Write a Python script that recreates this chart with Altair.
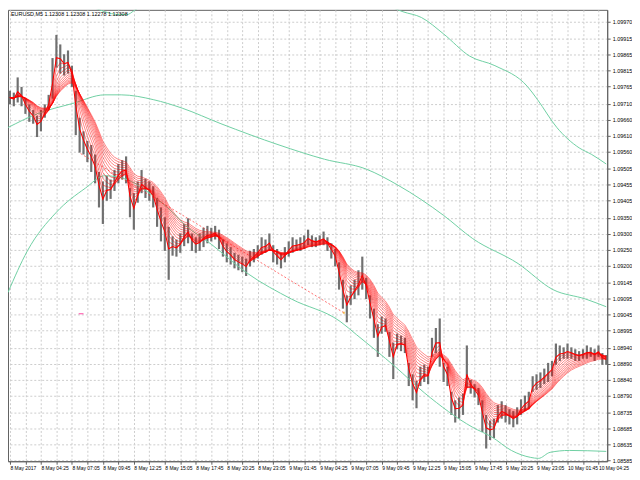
import altair as alt
import pandas as pd

title_text = "EURUSD,M5  1.12308 1.12308 1.12278 1.12308"

# 20-minute OHLC bars (high / low), first bar 8 May 2017 01:45
bar_start = "2017-05-08 01:45"
bar_high = [
    1.09751, 1.09745, 1.09793, 1.09763, 1.09726, 1.09708, 1.09690, 1.09672, 1.09690, 1.09708,
    1.09738, 1.09854, 1.09927, 1.09897, 1.09866, 1.09878, 1.09830, 1.09751, 1.09666, 1.09623,
    1.09593, 1.09580, 1.09550, 1.09495, 1.09465, 1.09483, 1.09471, 1.09501, 1.09520, 1.09532,
    1.09544, 1.09444, 1.09428, 1.09465, 1.09501, 1.09474, 1.09465, 1.09450, 1.09413, 1.09383,
    1.09352, 1.09322, 1.09292, 1.09282, 1.09301, 1.09331, 1.09349, 1.09301, 1.09289, 1.09301,
    1.09319, 1.09325, 1.09319, 1.09325, 1.09313, 1.09282, 1.09270, 1.09258, 1.09240, 1.09234,
    1.09228, 1.09222, 1.09246, 1.09252, 1.09264, 1.09289, 1.09282, 1.09301, 1.09264, 1.09252,
    1.09240, 1.09258, 1.09276, 1.09289, 1.09282, 1.09289, 1.09295, 1.09313, 1.09295, 1.09289,
    1.09295, 1.09307, 1.09289, 1.09270, 1.09252, 1.09210, 1.09155, 1.09106, 1.09137, 1.09155,
    1.09185, 1.09228, 1.09161, 1.09106, 1.09064, 1.09015, 1.09039, 1.09033, 1.08991, 1.08957,
    1.08985, 1.08979, 1.08972, 1.08893, 1.08857, 1.08836, 1.08881, 1.08887, 1.08881, 1.08972,
    1.09003, 1.09033, 1.08893, 1.08881, 1.08802, 1.08775, 1.08784, 1.08796, 1.08948, 1.08839,
    1.08826, 1.08814, 1.08775, 1.08729, 1.08711, 1.08717, 1.08760, 1.08772, 1.08760, 1.08747,
    1.08741, 1.08753, 1.08778, 1.08790, 1.08802, 1.08851, 1.08857, 1.08863, 1.08875, 1.08893,
    1.08899, 1.08954, 1.08948, 1.08942, 1.08954, 1.08942, 1.08936, 1.08930, 1.08936, 1.08948,
    1.08942, 1.08936, 1.08948, 1.08924, 1.08918,
]
bar_low = [
    1.09708, 1.09702, 1.09714, 1.09702, 1.09678, 1.09653, 1.09647, 1.09605, 1.09623, 1.09666,
    1.09690, 1.09726, 1.09824, 1.09805, 1.09799, 1.09805, 1.09763, 1.09611, 1.09556, 1.09550,
    1.09526, 1.09495, 1.09459, 1.09383, 1.09331, 1.09404, 1.09410, 1.09435, 1.09459, 1.09471,
    1.09459, 1.09352, 1.09313, 1.09398, 1.09428, 1.09413, 1.09404, 1.09383, 1.09322, 1.09276,
    1.09246, 1.09155, 1.09231, 1.09228, 1.09240, 1.09261, 1.09270, 1.09246, 1.09240, 1.09246,
    1.09258, 1.09270, 1.09276, 1.09282, 1.09252, 1.09228, 1.09210, 1.09203, 1.09191, 1.09185,
    1.09179, 1.09167, 1.09197, 1.09210, 1.09222, 1.09234, 1.09240, 1.09246, 1.09210, 1.09203,
    1.09191, 1.09210, 1.09228, 1.09240, 1.09246, 1.09246, 1.09252, 1.09264, 1.09258, 1.09258,
    1.09264, 1.09264, 1.09246, 1.09222, 1.09197, 1.09124, 1.09064, 1.09021, 1.09076, 1.09094,
    1.09106, 1.09124, 1.09094, 1.09033, 1.08972, 1.08912, 1.08985, 1.08991, 1.08912, 1.08842,
    1.08936, 1.08930, 1.08924, 1.08820, 1.08775, 1.08750, 1.08820, 1.08833, 1.08826, 1.08912,
    1.08924, 1.08881, 1.08833, 1.08820, 1.08729, 1.08705, 1.08717, 1.08729, 1.08814, 1.08796,
    1.08784, 1.08760, 1.08675, 1.08623, 1.08650, 1.08656, 1.08705, 1.08717, 1.08705, 1.08699,
    1.08690, 1.08699, 1.08729, 1.08741, 1.08747, 1.08802, 1.08808, 1.08814, 1.08826, 1.08833,
    1.08851, 1.08887, 1.08899, 1.08906, 1.08906, 1.08906, 1.08899, 1.08899, 1.08906, 1.08906,
    1.08912, 1.08899, 1.08912, 1.08887, 1.08887,
]

# Bollinger-style envelope (green)
mid_times = ["2017-05-08 01:35", "2017-05-08 04:05", "2017-05-08 07:10", "2017-05-08 09:55",
             "2017-05-08 11:20", "2017-05-08 14:05", "2017-05-08 16:35", "2017-05-08 19:55",
             "2017-05-09 00:55", "2017-05-09 04:50", "2017-05-09 08:25", "2017-05-09 11:10",
             "2017-05-09 15:05", "2017-05-09 17:35", "2017-05-09 21:30", "2017-05-10 00:30",
             "2017-05-10 03:20", "2017-05-10 05:05"]
mid_vals = [1.09635, 1.09678, 1.09711, 1.09738, 1.09738, 1.09723, 1.09696, 1.09647,
            1.09580, 1.09535, 1.09504, 1.09453, 1.09358, 1.09285, 1.09206, 1.09124,
            1.09094, 1.09070]
upper_times = ["2017-05-08 01:35", "2017-05-08 05:45", "2017-05-08 09:15", "2017-05-08 09:55",
               "2017-05-08 10:30", "2017-05-08 11:10", "2017-05-08 11:50", "2017-05-08 12:25",
               "2017-05-08 13:05", "2017-05-08 14:05", "2017-05-08 18:15", "2017-05-08 22:25",
               "2017-05-09 02:35", "2017-05-09 06:45", "2017-05-09 10:30", "2017-05-09 11:35",
               "2017-05-09 13:10", "2017-05-09 15:05", "2017-05-09 17:20", "2017-05-09 19:30",
               "2017-05-09 22:20", "2017-05-09 23:10", "2017-05-10 00:50", "2017-05-10 02:45",
               "2017-05-10 03:50", "2017-05-10 05:05"]
upper_vals = [1.10155, 1.10036, 1.10009, 1.10000, 1.09994, 1.09991, 1.09991, 1.10003,
              1.10018, 1.10027, 1.10046, 1.10052, 1.10052, 1.10036, 1.10015, 1.10000,
              1.09982, 1.09930, 1.09860, 1.09830, 1.09763, 1.09723, 1.09635, 1.09571,
              1.09550, 1.09520]
lower_times = ["2017-05-08 01:35", "2017-05-08 03:15", "2017-05-08 05:45", "2017-05-08 08:15",
               "2017-05-08 09:55", "2017-05-08 11:35", "2017-05-08 14:05", "2017-05-08 15:45",
               "2017-05-08 16:50", "2017-05-08 19:05", "2017-05-08 22:10", "2017-05-09 02:00",
               "2017-05-09 06:10", "2017-05-09 07:35", "2017-05-09 10:55", "2017-05-09 13:25",
               "2017-05-09 17:35", "2017-05-09 19:15", "2017-05-09 20:55", "2017-05-09 22:35",
               "2017-05-09 23:15", "2017-05-10 00:15", "2017-05-10 01:55", "2017-05-10 05:05"]
lower_vals = [1.09115, 1.09246, 1.09368, 1.09444, 1.09483, 1.09474, 1.09419, 1.09368,
              1.09328, 1.09267, 1.09176, 1.09094, 1.09024, 1.08982, 1.08881, 1.08799,
              1.08690, 1.08659, 1.08617, 1.08595, 1.08592, 1.08611, 1.08617, 1.08614]

# dotted trend line and markers
trend_times = ["2017-05-08 07:50", "2017-05-09 06:30"]
trend_vals = [1.09553, 1.09051]
mark_times = ["2017-05-08 07:40", "2017-05-08 08:05"]
mark_val = 1.09048

# moving-average ribbon spans (in 20-minute bars)
ribbon_spans = [2.5, 3.5, 4.5, 5.5, 6.5, 7.5, 8.5, 9.5, 10.5, 11.5, 12.5, 13.5]
fast_span = 1.5

y_ticks = [1.09970, 1.09915, 1.09865, 1.09815, 1.09765, 1.09710, 1.09660, 1.09610,
           1.09560, 1.09505, 1.09455, 1.09405, 1.09350, 1.09300, 1.09250, 1.09200,
           1.09145, 1.09095, 1.09045, 1.08995, 1.08940, 1.08890, 1.08840, 1.08790,
           1.08735, 1.08685, 1.08635, 1.08585]

# ---------------------------------------------------------------------------
times = pd.date_range(bar_start, periods=len(bar_high), freq="20min")
bars = pd.DataFrame({"t": times, "v": bar_low, "high": bar_high})
median = (pd.Series(bar_high) + pd.Series(bar_low)) / 2

rib_rows = []
for sp in ribbon_spans:
    e = median.ewm(span=sp, adjust=False).mean()
    rib_rows.append(pd.DataFrame({"t": times, "v": e.values, "span": sp}))
ribbon = pd.concat(rib_rows, ignore_index=True)
fast = pd.DataFrame({"t": times, "v": median.ewm(span=fast_span, adjust=False).mean().values})

mid = pd.DataFrame({"t": pd.to_datetime(mid_times), "v": mid_vals})
upper = pd.DataFrame({"t": pd.to_datetime(upper_times), "v": upper_vals})
lower = pd.DataFrame({"t": pd.to_datetime(lower_times), "v": lower_vals})
trend = pd.DataFrame({"t": pd.to_datetime(trend_times), "v": trend_vals})
marker = pd.DataFrame({"t": [pd.Timestamp(mark_times[0])], "t2": [pd.Timestamp(mark_times[1])],
                       "v": [mark_val]})
dot = pd.DataFrame({"t": [pd.Timestamp(trend_times[1])], "v": [trend_vals[1]]})


def dt(ts):
    return alt.DateTime(year=ts.year, month=ts.month, date=ts.day,
                        hours=ts.hour, minutes=ts.minute)


grid_times = pd.date_range("2017-05-08 01:45", "2017-05-10 04:25", freq="80min")
x_scale = alt.Scale(domain=[dt(pd.Timestamp("2017-05-08 01:35")),
                            dt(pd.Timestamp("2017-05-10 05:10"))], nice=False)
y_scale = alt.Scale(domain=[1.08583, 1.10006], zero=False, nice=False)

label_expr = (
    "round((datum.value - datetime(2017,4,8,1,45)) / 4800000) % 2 == 0 ? "
    "(round((datum.value - datetime(2017,4,8,1,45)) / 60000) == 0 ? '8 May 2017' : "
    "timeFormat(datum.value, '%-d %b %H:%M')) : ''"
)

x_axis = alt.Axis(values=[dt(t) for t in grid_times], labelExpr=label_expr,
                  labelAlign="left", labelBaseline="top", labelFontSize=5,
                  labelColor="#000000", labelPadding=1, labelOverlap=False,
                  labelFlush=False, tickSize=3, tickColor="#606060",
                  domainColor="#606060", gridColor="#cccccc", gridDash=[2, 2],
                  title=None, labelFont="Liberation Sans")
y_axis = alt.Axis(orient="right", values=y_ticks, format=".5f", labelFontSize=5.5,
                  labelColor="#000000", labelPadding=2, labelOverlap=False,
                  tickSize=3, tickColor="#606060", domainColor="#606060",
                  gridColor="#cccccc", gridDash=[2, 2], title=None,
                  labelFont="Liberation Sans", labelFlush=False)

X = alt.X("t:T", scale=x_scale, axis=x_axis)
Y = alt.Y("v:Q", scale=y_scale, axis=y_axis)

green = "#6fcfa3"

bar_layer = alt.Chart(bars).mark_rule(color="#707070", strokeWidth=2.2).encode(
    x=X, y=Y, y2="high:Q",
)

mid_layer = alt.Chart(mid).mark_line(color=green, strokeWidth=1, clip=True,
                                     interpolate="monotone").encode(x=X, y=Y)
up_layer = alt.Chart(upper).mark_line(color=green, strokeWidth=1, clip=True,
                                      interpolate="monotone").encode(x=X, y=Y)
low_layer = alt.Chart(lower).mark_line(color=green, strokeWidth=1, clip=True,
                                       interpolate="monotone").encode(x=X, y=Y)

trend_layer = alt.Chart(trend).mark_line(color="#ff2020", strokeWidth=0.8,
                                         strokeDash=[2, 2], opacity=0.8).encode(x=X, y=Y)

rib_layer = alt.Chart(ribbon).mark_line(color="#ff0000", strokeWidth=0.6, opacity=0.8,
                                        clip=True).encode(
    x=X, y=Y, detail="span:N")
fast_layer = alt.Chart(fast).mark_line(color="#ff0000", strokeWidth=1.1, clip=True).encode(
    x=X, y=Y)

marker_layer = alt.Chart(marker).mark_rule(color="#ff66b3", strokeWidth=1.2).encode(
    x=X, x2="t2:T", y=Y)
dot_layer = alt.Chart(dot).mark_point(color="#f0b030", filled=True, size=6).encode(
    x=X, y=Y)

title_layer = alt.Chart(pd.DataFrame({"s": [title_text]})).mark_text(
    align="left", baseline="top", fontSize=5.5, color="#000000",
    font="Liberation Sans").encode(text="s:N", x=alt.value(3), y=alt.value(2))

chart = alt.layer(
    bar_layer, mid_layer, up_layer, low_layer, trend_layer, rib_layer, fast_layer,
    marker_layer, dot_layer, title_layer,
).properties(
    width=604, height=455, padding=0, background="#ffffff"
).configure_view(
    stroke="#606060", strokeWidth=1
)

chart.save("out.html", embed_options={"renderer": "svg", "actions": False})
